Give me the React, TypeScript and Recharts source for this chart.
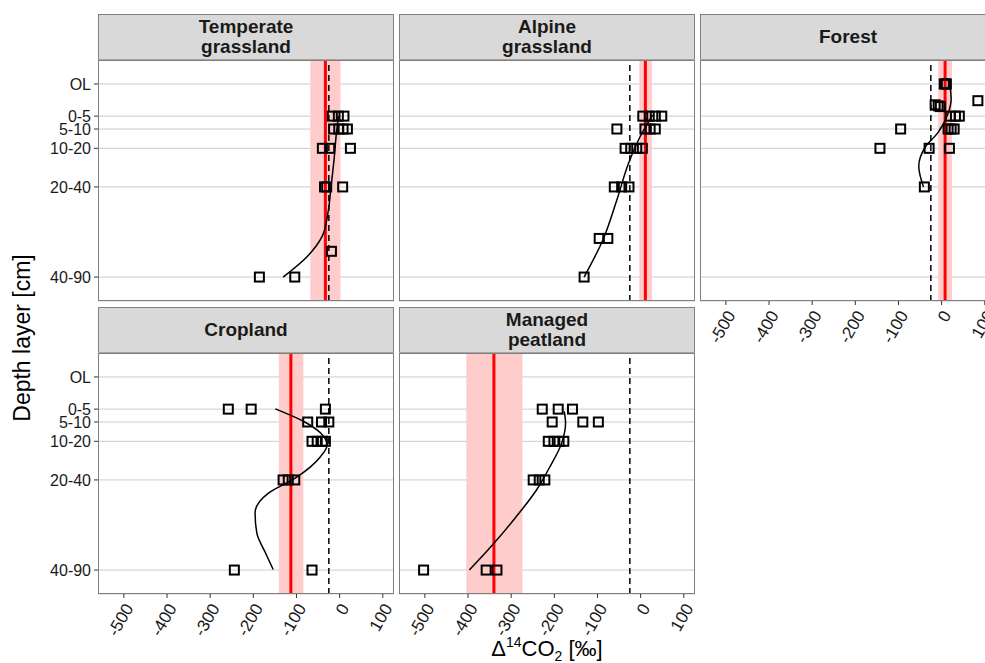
import React from "react";
import {
  ComposedChart,
  Scatter,
  XAxis,
  YAxis,
  CartesianGrid,
  ReferenceLine,
  ReferenceArea,
} from "recharts";

// depth layers are placed on a numeric depth axis (cm), OL above the mineral soil
const depthTicks = [-10, 2.5, 7.5, 15, 30, 65];
const depthLabels = ["OL", "0-5", "5-10", "10-20", "20-40", "40-90"];
const deltaTicks = [-500, -400, -300, -200, -100, 0, 100];
const atmosphere = -25;

// [Δ14CO2, depth]
const temperatePoints = [
  [-17, 2.5], [-3, 2.5], [10, 2.5],
  [-14, 7.5], [-2, 7.5], [8, 7.5], [18, 7.5],
  [-40, 15], [-23, 15], [25, 15],
  [-35, 30], [-30, 30], [7, 30],
  [-19, 55],
  [-186, 65], [-104, 65],
];
const temperateCurve = [
  [-3, 2.5], [-8, 10], [-13, 19.5], [-20, 30], [-27, 40], [-40, 49], [-75, 57], [-131, 65],
];

const alpinePoints = [
  [5, 2.5], [20, 2.5], [34, 2.5], [49, 2.5],
  [-55, 7.5], [10, 7.5], [22, 7.5], [34, 7.5],
  [-36, 15], [-23, 15], [-9, 15], [4, 15],
  [-61, 30], [-44, 30], [-27, 30],
  [-96, 50], [-76, 50],
  [-131, 65],
];
const alpineCurve = [
  [28, 2], [-1, 10.4], [-28, 20.8], [-55, 35], [-86, 50], [-131, 65],
];

const forestPoints = [
  [6, -10], [9, -10], [11, -10],
  [-15, -1.9], [-8, -1.5], [-3, -1.2], [84, -3.5],
  [20, 2.5], [32, 2.5], [41, 2.5],
  [-95, 7.5], [15, 7.5], [22, 7.5], [29, 7.5],
  [-143, 15], [-29, 15], [18, 15],
  [-40, 30],
];
const forestCurve = [
  [19, -10], [22, -4], [15, 1.4], [-9, 9], [-37, 14.3], [-53, 22], [-42, 30],
];

const croplandPoints = [
  [-258, 2.5], [-205, 2.5], [-33, 2.5],
  [-74, 7.5], [-42, 7.5], [-25, 7.5],
  [-64, 15], [-52, 15], [-40, 15], [-33, 15],
  [-131, 30], [-119, 30], [-104, 30],
  [-244, 65], [-64, 65],
];
const croplandCurve = [
  [-149, 2.4], [-83, 7.3], [-44, 11.8], [-29, 16.4], [-44, 20.9], [-103, 29.3],
  [-165, 35.1], [-196, 42.8], [-192, 50.6], [-172, 58.3], [-154, 64.8],
];

const peatlandPoints = [
  [-228, 2.5], [-191, 2.5], [-158, 2.5],
  [-205, 7.5], [-134, 7.5], [-98, 7.5],
  [-214, 15], [-201, 15], [-189, 15], [-178, 15],
  [-249, 30], [-235, 30], [-222, 30],
  [-503, 65], [-358, 65], [-333, 65],
];
const peatlandCurve = [
  [-177, 3.4], [-174, 8], [-183, 15.7], [-210, 24.8], [-241, 33.8], [-288, 44.2], [-342, 55], [-397, 65],
];

// mean and its band
const temperateMean = [-33, -68, 2];
const alpineMean = [11, -3, 26];
const forestMean = [8, -8, 24];
const croplandMean = [-113, -141, -84];
const peatlandMean = [-340, -404, -274];

const FONT = '"Liberation Sans", Arial, sans-serif';
const PLOT_W = 296;
const PLOT_H = 241;
const STRIP_H = 46;

const toXY = (arr: number[][]) => arr.map(([x, y]) => ({ x, y }));

const SquareShape = (props: any) => (
  <rect
    x={props.cx - 4.5}
    y={props.cy - 4.5}
    width={9}
    height={9}
    fill="none"
    stroke="#000"
    strokeWidth={2}
  />
);
const NoShape = () => <g />;

const YTick = ({ x, y, payload }: any) => (
  <text x={x} y={y} dy="0.35em" textAnchor="end" fontSize={16} fill="#1a1a1a" fontFamily={FONT}>
    {depthLabels[depthTicks.indexOf(payload.value)]}
  </text>
);

const XTick = ({ x, y, payload }: any) => (
  <text
    x={x + 5}
    y={y + 5}
    dy="0.35em"
    textAnchor="end"
    fontSize={17}
    fill="#1a1a1a"
    fontFamily={FONT}
    transform={`rotate(-60, ${x + 5}, ${y + 5})`}
  >
    {payload.value}
  </text>
);

function Panel({ title, points, curve, mean, left, top, showX, showY }: any) {
  const yW = showY ? 98 : 0;
  const xH = showX ? 60 : 0;
  const plotTop = top + STRIP_H;
  return (
    <>
      <div
        style={{
          position: "absolute",
          left,
          top,
          width: PLOT_W,
          height: STRIP_H,
          boxSizing: "border-box",
          background: "#d9d9d9",
          border: "1px solid #7f7f7f",
          display: "flex",
          alignItems: "center",
          justifyContent: "center",
          textAlign: "center",
          fontWeight: "bold",
          fontSize: 19,
          lineHeight: "20px",
          color: "#1a1a1a",
        }}
      >
        <div>
          {title.map((t: string) => (
            <div key={t}>{t}</div>
          ))}
        </div>
      </div>
      <div style={{ position: "absolute", left: left - yW, top: plotTop }}>
        <ComposedChart
          width={PLOT_W + yW}
          height={PLOT_H + xH}
          margin={{ top: 0, right: 0, bottom: 0, left: 0 }}
        >
          <CartesianGrid vertical={false} stroke="#cccccc" strokeWidth={1} />
          <XAxis
            type="number"
            dataKey="x"
            domain={[-560, 126]}
            allowDataOverflow
            ticks={deltaTicks}
            interval={0}
            hide={!showX}
            height={xH}
            axisLine={false}
            tickSize={4}
            tickMargin={2}
            tickLine={{ stroke: "#333" }}
            tick={<XTick />}
          />
          <YAxis
            type="number"
            dataKey="y"
            domain={[-19.3, 74.3]}
            allowDataOverflow
            reversed
            ticks={depthTicks}
            interval={0}
            hide={!showY}
            width={yW}
            axisLine={false}
            tickSize={4}
            tickMargin={3}
            tickLine={{ stroke: "#333" }}
            tick={<YTick />}
          />
          <ReferenceArea x1={mean[1]} x2={mean[2]} fill="#ffcccc" fillOpacity={1} stroke="none" />
          <ReferenceLine x={mean[0]} stroke="#ff0000" strokeWidth={3} />
          <ReferenceLine x={atmosphere} stroke="#000" strokeWidth={1.5} strokeDasharray="6 4" />
          <Scatter data={toXY(points)} shape={SquareShape} isAnimationActive={false} />
          <Scatter
            data={toXY(curve)}
            shape={NoShape}
            line={{ stroke: "#000", strokeWidth: 1.5 }}
            lineJointType="monotoneY"
            isAnimationActive={false}
          />
        </ComposedChart>
      </div>
      <div
        style={{
          position: "absolute",
          left,
          top: plotTop,
          width: PLOT_W,
          height: PLOT_H,
          boxSizing: "border-box",
          border: "1px solid #7f7f7f",
          pointerEvents: "none",
        }}
      />
    </>
  );
}

export default function App() {
  return (
    <div
      style={{
        position: "absolute",
        left: 0,
        top: 0,
        width: 985,
        height: 663,
        overflow: "hidden",
        background: "#fff",
        fontFamily: FONT,
      }}
    >
      <style>{`.recharts-surface { overflow: visible; } .recharts-wrapper { overflow: visible; }`}</style>
      <Panel title={["Temperate", "grassland"]} points={temperatePoints} curve={temperateCurve} mean={temperateMean} left={98} top={14} showY />
      <Panel title={["Alpine", "grassland"]} points={alpinePoints} curve={alpineCurve} mean={alpineMean} left={399} top={14} />
      <Panel title={["Forest"]} points={forestPoints} curve={forestCurve} mean={forestMean} left={700} top={14} showX />
      <Panel title={["Cropland"]} points={croplandPoints} curve={croplandCurve} mean={croplandMean} left={98} top={307} showY showX />
      <Panel title={["Managed", "peatland"]} points={peatlandPoints} curve={peatlandCurve} mean={peatlandMean} left={399} top={307} showX />

      <div
        style={{
          position: "absolute",
          left: 22,
          top: 338,
          transform: "translate(-50%, -50%) rotate(-90deg)",
          fontSize: 23,
          whiteSpace: "nowrap",
          color: "#000",
        }}
      >
        Depth layer [cm]
      </div>
      <div
        style={{
          position: "absolute",
          left: 547,
          top: 638,
          transform: "translateX(-50%)",
          fontSize: 22,
          lineHeight: "22px",
          whiteSpace: "nowrap",
          color: "#000",
        }}
      >
        Δ<span style={{ fontSize: 14, position: "relative", top: -9 }}>14</span>CO
        <span style={{ fontSize: 14, position: "relative", top: 5 }}>2</span> [‰]
      </div>
    </div>
  );
}
